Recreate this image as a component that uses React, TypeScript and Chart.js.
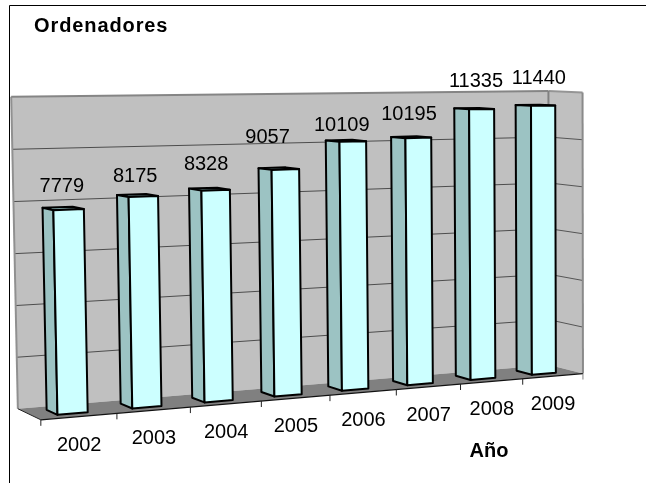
import React, { useEffect, useRef } from "react";
import { Chart, registerables } from "chart.js";

Chart.register(...registerables);

const years = ["2002", "2003", "2004", "2005", "2006", "2007", "2008", "2009"];
const ordenadores = [7779, 8175, 8328, 9057, 10109, 10195, 11335, 11440];
const chartTitle = "Ordenadores";
const axisTitle = "Año";
const axisMax = 12000;
const axisStep = 2000;

const FONT = '"Liberation Sans", Arial, sans-serif';

// Camera calibration: box corners (u, v, depth) -> picture position
const calibration: number[][] = [
  [0, 0, 0, 41, 421], [1, 0, 0, 581, 373], [0, 0, 1, 17, 408], [1, 0, 1, 552, 365],
  [0, 1, 1, 11, 97], [1, 1, 1, 545.5, 91], [1, 1, 0, 585, 92],
  [0.25, 0, 0, 191, 408], [0.5, 0, 0, 330, 395], [0.75, 0, 0, 459, 383],
  [1, 0.5, 1, 549, 230], [1, 0.5, 0, 583, 234], [0, 0.5, 1, 15, 253], [0, 5 / 6, 1, 12.7, 149],
];

// Hand-placed data labels in the original: offset from the automatic spot
const labelNudge: [number, number][] = [
  [-1, 2], [-2, 5], [-3, -1], [-11, -8], [-4, 8], [-2, 0], [2, -4], [3.5, -4],
];

function solveCamera(): number[] {
  const n = 11;
  const M = Array.from({ length: n }, () => new Array(n + 1).fill(0));
  const add = (r: number[], t: number) => {
    for (let i = 0; i < n; i++) {
      for (let j = 0; j < n; j++) M[i][j] += r[i] * r[j];
      M[i][n] += r[i] * t;
    }
  };
  for (const [u, v, w, x0, y0] of calibration) {
    const x = x0 / 100, y = y0 / 100;
    add([1, u, v, w, 0, 0, 0, 0, -x * u, -x * v, -x * w], x);
    add([0, 0, 0, 0, 1, u, v, w, -y * u, -y * v, -y * w], y);
  }
  for (let c = 0; c < n; c++) {
    let p = c;
    for (let r = c + 1; r < n; r++) if (Math.abs(M[r][c]) > Math.abs(M[p][c])) p = r;
    [M[c], M[p]] = [M[p], M[c]];
    for (let r = 0; r < n; r++) {
      if (r === c) continue;
      const f = M[r][c] / M[c][c];
      for (let k = c; k <= n; k++) M[r][k] -= f * M[c][k];
    }
  }
  return M.map((row, i) => row[n] / row[i]);
}

const cam = solveCamera();
function project(u: number, v: number, w: number): [number, number] {
  const d = 1 + cam[8] * u + cam[9] * v + cam[10] * w;
  return [
    (100 * (cam[0] + cam[1] * u + cam[2] * v + cam[3] * w)) / d,
    (100 * (cam[4] + cam[5] * u + cam[6] * v + cam[7] * w)) / d,
  ];
}

function poly(ctx: CanvasRenderingContext2D, pts: [number, number][], fill?: string, stroke?: string, lw = 1) {
  ctx.beginPath();
  pts.forEach((p, i) => (i ? ctx.lineTo(p[0], p[1]) : ctx.moveTo(p[0], p[1])));
  ctx.closePath();
  if (fill) { ctx.fillStyle = fill; ctx.fill(); }
  if (stroke) { ctx.strokeStyle = stroke; ctx.lineWidth = lw; ctx.lineJoin = "round"; ctx.stroke(); }
}
function line(ctx: CanvasRenderingContext2D, a: [number, number], b: [number, number], color: string, lw = 1) {
  ctx.beginPath();
  ctx.moveTo(a[0], a[1]);
  ctx.lineTo(b[0], b[1]);
  ctx.strokeStyle = color;
  ctx.lineWidth = lw;
  ctx.stroke();
}

const WALL = "#c0c0c0";
const FLOOR = "#808080";
const FRONT = "#ccffff";
const SIDE = "#9cc3c3";
const TOP = "#8fb8b8";
const INK = "#000000";
const DEPTH_FRONT = 0.27;
const DEPTH_BACK = 0.73;

const box3d = {
  id: "box3d",
  beforeDatasetsDraw(chart: any) {
    const ctx: CanvasRenderingContext2D = chart.ctx;
    const area = chart.chartArea;
    const yScale = chart.scales.y;
    const toU = (px: number) => (px - area.left) / area.width;
    const toV = (py: number) => (area.bottom - py) / area.height;
    ctx.save();

    // frame
    line(ctx, [9.5, 483], [9.5, 5.5], INK, 1);
    line(ctx, [9.5, 5.5], [646, 5.5], INK, 1.2);

    // walls and floor
    poly(ctx, [project(0, 0, 1), project(1, 0, 1), project(1, 1, 1), project(0, 1, 1)], WALL);
    poly(ctx, [project(1, 0, 1), project(1, 0, 0), project(1, 1, 0), project(1, 1, 1)], WALL);
    poly(ctx, [project(0, 0, 0), project(1, 0, 0), project(1, 0, 1), project(0, 0, 1)], FLOOR);

    // gridlines
    for (const t of yScale.ticks) {
      const v = toV(yScale.getPixelForValue(t.value));
      if (v <= 0.001 || v >= 0.999) continue;
      line(ctx, project(0, v, 1), project(1, v, 1), "#4d4d4d", 1);
      line(ctx, project(1, v, 1), project(1, v, 0), "#555555", 1);
    }
    // wall borders
    line(ctx, project(0, 0, 1), project(0, 1, 1), "#909090", 2);
    line(ctx, project(0, 1, 1), project(1, 1, 1), "#858585", 2);
    line(ctx, project(1, 1, 1), project(1, 1, 0), "#959595", 2);
    line(ctx, project(1, 1, 1), project(1, 0, 1), "#808080", 2);
    line(ctx, project(1, 1, 0), project(1, 0, 0), "#8a8a8a", 2);

    // floor edges and ticks
    line(ctx, project(0, 0, 1), project(0, 0, 0), "#222222", 1);
    line(ctx, project(0, 0, 0), project(1, 0, 0), "#111111", 1.2);
    for (let i = 0; i <= years.length; i++) {
      const p = project(i / years.length, 0, 0);
      line(ctx, p, [p[0], p[1] + 6], i === years.length ? "#808080" : "#222222", 1);
    }

    // bars, through the bar elements laid out by the chart
    const meta = chart.getDatasetMeta(0);
    meta.data.forEach((bar: any) => {
      const { x, y, width } = bar.getProps(["x", "y", "width"], true);
      const u0 = toU(x - width / 2);
      const u1 = toU(x + width / 2);
      const v = toV(y);
      const fbl = project(u0, 0, DEPTH_FRONT), fbr = project(u1, 0, DEPTH_FRONT);
      const ftl = project(u0, v, DEPTH_FRONT), ftr = project(u1, v, DEPTH_FRONT);
      const bbl = project(u0, 0, DEPTH_BACK), btl = project(u0, v, DEPTH_BACK), btr = project(u1, v, DEPTH_BACK);
      poly(ctx, [ftl, ftr, btr, btl], TOP, INK, 2);
      poly(ctx, [fbl, ftl, btl, bbl], SIDE, INK, 2);
      poly(ctx, [fbl, fbr, ftr, ftl], FRONT, INK, 2);
    });

    // value labels
    ctx.fillStyle = "#000000";
    ctx.textBaseline = "alphabetic";
    ctx.textAlign = "center";
    ctx.font = `20px ${FONT}`;
    meta.data.forEach((bar: any, i: number) => {
      const { x, y } = bar.getProps(["x", "y"], true);
      const p = project(toU(x), toV(y) + 0.06, 0.5);
      ctx.fillText(String(ordenadores[i]), p[0] + labelNudge[i][0], p[1] + labelNudge[i][1]);
    });

    // category labels
    meta.data.forEach((bar: any, i: number) => {
      const { x } = bar.getProps(["x"], true);
      const p = project(toU(x), 0, 0);
      ctx.fillText(years[i], p[0], p[1] + 34);
    });

    // titles
    ctx.font = `bold 20px ${FONT}`;
    ctx.fillText(axisTitle, 489, 457);
    ctx.textAlign = "left";
    (ctx as any).letterSpacing = "0.9px";
    ctx.fillText(chartTitle, 34, 32);
    (ctx as any).letterSpacing = "0px";

    ctx.restore();
    return false;
  },
};

export default function App() {
  const ref = useRef<HTMLCanvasElement>(null);
  useEffect(() => {
    document.body.style.margin = "0";
    document.body.style.background = "#ffffff";
    const chart = new Chart(ref.current!, {
      type: "bar",
      data: {
        labels: years,
        datasets: [{
          label: chartTitle,
          data: ordenadores,
          backgroundColor: FRONT,
          borderColor: INK,
          barPercentage: 0.4,
          categoryPercentage: 1,
        }],
      },
      options: {
        responsive: false,
        animation: false,
        layout: { padding: 0 },
        plugins: { legend: { display: false }, tooltip: { enabled: false }, title: { display: false } },
        scales: {
          x: { display: false, type: "category", offset: true },
          y: { display: false, min: 0, max: axisMax, ticks: { stepSize: axisStep } },
        },
      },
      plugins: [box3d],
    } as any);
    return () => chart.destroy();
  }, []);
  return (
    <div style={{ position: "absolute", left: 0, top: 0, width: 646, height: 483 }}>
      <canvas ref={ref} width={646} height={483} style={{ display: "block" }} />
    </div>
  );
}
